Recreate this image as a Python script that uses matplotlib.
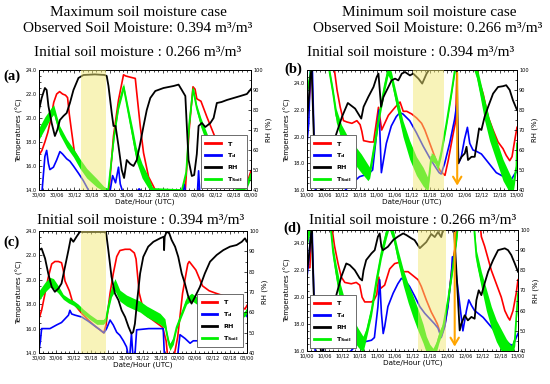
import numpy as np
import matplotlib
matplotlib.use("Agg")
import matplotlib.pyplot as plt
from matplotlib.ticker import MultipleLocator
from matplotlib.lines import Line2D

# ---------------- data ----------------
# hours since start of each 72 h window
a_xt = ['30/00', '30/06', '30/12', '30/18', '31/00', '31/06', '31/12', '31/18',
        '02/00', '02/06', '02/12', '02/18', '03/00']
b_xt = ['10/00', '10/06', '10/12', '10/18', '11/00', '11/06', '11/12', '11/18',
        '12/00', '12/06', '12/12', '12/18', '13/00']

# ---- panel (a)
a_T_h = [0, 1, 2, 3, 4, 5, 6, 7, 8, 9, 9.7, 10.3, 11, 12, 13, 14, 16, 18, 20, 22,
         23.8, 25.3, 27, 28.7, 29.5, 31, 32.7, 33.2, 34.4, 35.5, 37.2, 39.5, 41, 48,
         49.7, 51, 52.3, 53, 53.6, 55, 57, 59.3, 62, 66, 69, 70.6, 72]
a_T = [16.9, 17.3, 18.0, 18.8, 19.9, 21.3, 22.0, 22.2, 22.0, 21.9, 21.7, 20.3, 19.0,
       17.2, 16.8, 16.2, 15.4, 14.9, 14.5, 14.1, 14.0, 18.5, 21.5, 23.6, 23.5, 23.4,
       23.3, 22.1, 19.3, 17.1, 15.1, 14.0, 13.6, 13.6, 14.0, 19.0, 22.6, 22.4, 21.6,
       21.4, 20.1, 18.7, 17.0, 14.5, 13.8, 14.5, 15.6]
a_Td_h = [0, 1, 2, 2.6, 3.2, 3.7, 4.9, 6, 7.1, 8, 9.4, 10.5, 11.7, 13.4, 15, 17, 22,
          24.2, 25, 26, 27, 27.6, 28.5, 33, 34, 35, 48.8, 49.3, 49.8, 53.8, 54.2, 54.6,
          60, 72]
a_Td = [13.0, 13.8, 16.8, 17.3, 16.2, 15.7, 15.9, 16.5, 17.2, 17.0, 16.6, 16.4, 16.0,
        15.4, 14.8, 13.9, 13.5, 14.0, 15.2, 14.6, 15.9, 14.5, 13.8, 13.8, 14.1, 13.8,
        13.8, 14.5, 13.8, 13.8, 15.6, 13.8, 13.5, 13.5]
a_RH_h = [0, 0.9, 2, 2.6, 3.2, 4.3, 5.4, 6.2, 7.1, 8.3, 9.4, 10.5, 11.7, 13.4, 15.1,
          19, 22.3, 23, 23.6, 24.7, 25.3, 26, 27, 28.1, 28.9, 29.8, 31, 32.1, 33.2,
          34.4, 35.5, 36.6, 37.8, 39.5, 42.3, 45.7, 47.4, 48.5, 49.7, 50.2, 50.8, 51.9,
          52.7, 53.6, 54.2, 55.3, 56.5, 58.2, 59.3, 60.4, 62, 63.8, 66.1, 68.4, 70.6, 72]
a_RH = [80, 86, 91, 90, 82, 73.5, 67, 70, 75, 77, 78.5, 83.5, 90, 96, 97.5, 97.8, 97.5,
        97, 92, 78.5, 72, 72, 62, 50, 46, 55, 53, 52, 55, 63.5, 72, 80, 86, 89.5, 91,
        92, 92.7, 90, 87, 72, 55, 47, 47.5, 58, 72, 73.5, 71.5, 73.5, 76, 83.5, 84, 85,
        86, 87, 88, 90.5]
a_S_h = [0, 2, 4, 5, 6, 7, 9.4, 11.7, 13.9, 16.2, 19.6, 22, 23.5, 25.5, 27, 28.7, 30,
         31.8, 33, 35, 37, 38.6, 48.5, 50, 51, 52.3, 53.6, 55, 57, 59, 61, 63, 68, 70.5, 72]
a_S = [18.7, 19.6, 20.4, 20.7, 19.8, 19.0, 17.9, 17.1, 16.2, 15.4, 14.6, 14.1, 14.0,
       18.5, 21.0, 22.6, 20.9, 18.6, 17.0, 15.6, 14.7, 14.0, 14.0, 15.5, 19.5, 22.4,
       20.8, 19.6, 18.3, 17.0, 15.8, 14.8, 14.3, 14.4, 15.3]
a_Sw = [0.5, 0.5, 0.4, 0.4, 0.4, 0.35, 0.35, 0.35, 0.4, 0.4, 0.35, 0.2, 0.1, 0.2, 0.3,
        0.3, 0.4, 0.55, 0.6, 0.6, 0.5, 0.2, 0.1, 0.2, 0.3, 0.3, 0.3, 0.4, 0.45, 0.45,
        0.45, 0.4, 0.35, 0.3, 0.3]
a_shade = [14.4, 22.8]

# ---- panel (b)
b_T_h = [0, 0.6, 1.1, 1.7, 2.5, 9.1, 10.3, 11.4, 12.5, 13.7, 15.4, 17.1, 18.2, 18.8,
         19.4, 21.6, 22.8, 23.6, 24.5, 25.6, 27.9, 30.2, 31.9, 33, 34.2, 35.9, 37.6,
         39.3, 40.4, 42.1, 43.8, 45, 45.8, 47.3, 48.4, 50.1, 51, 51.6, 58, 58.7, 60.4,
         62.1, 63.8, 65.5, 67.2, 68.3, 69.5, 70.3, 71.2, 72]
b_T = [22.2, 22.2, 23.7, 25.5, 27, 25.5, 23.5, 22.2, 21.2, 21.1, 21.0, 21.2, 20.9, 20.4,
       19.7, 19.6, 19.6, 20.8, 22.2, 20.5, 21.6, 22.2, 22.6, 21.9, 21.9, 21.7, 21.4,
       21.0, 20.5, 19.5, 18.5, 17.7, 17.4, 17.1, 18.2, 20.2, 21.2, 27, 27, 24.4, 23.2,
       21.5, 20.5, 19.6, 19.1, 18.6, 18.2, 18.5, 19.7, 20.7]
b_Td_h = [0, 0.6, 1.2, 1.8, 2.4, 2.9, 4.8, 5.2, 5.6, 10, 15, 18, 21, 22.5, 23.5, 24.7,
          25.5, 27.2, 28.9, 30.6, 31.8, 32.9, 35.2, 37.5, 39.8, 42.1, 43.8, 45.3, 46,
          47.2, 48.9, 50.6, 51.4, 52, 52.9, 54, 55, 55.8, 56.9, 58.1, 59.8, 60.9, 64.9,
          68.3, 70.1, 71.2, 72]
b_Td = [19.5, 21.0, 25.5, 25.5, 20, 15.8, 15.8, 16.1, 15.8, 15.3, 16.4, 17.0, 17.2,
        17.5, 19.5, 22.0, 17.3, 19.5, 20.8, 21.5, 21.8, 21.7, 21.2, 20.3, 19.3, 18.4,
        17.8, 17.3, 17.2, 18.0, 19.5, 21.3, 22.5, 18.0, 18.5, 19.8, 20.7, 19.5, 19.0,
        18.9, 18.7, 18.4, 17.3, 16.9, 16.8, 17.2, 17.4]
b_RH_h = [0, 0.6, 1.1, 1.6, 2.5, 5, 8.7, 9.7, 12, 14, 16.5, 18.6, 19.4, 21, 22.8, 23.9,
          24.5, 25.4, 26.2, 27.9, 29, 30.2, 31.3, 32.5, 33.6, 35.3, 36.4, 38.2, 39.5, 41,
          41.8, 51.4, 51.8, 53, 54.1, 54.7, 55.2, 56.4, 57.5, 58.4, 59, 59.8, 60.9, 62.1,
          63.8, 65.5, 67.2, 68.3, 69.5, 70.6, 72]
b_RH = [75, 85, 96.5, 100, 60, 38, 62, 66.5, 76.6, 83.5, 80.7, 75.7, 81.6, 86.5, 91.5,
        96.5, 98.2, 81.6, 86.5, 91.5, 94.8, 95.7, 94.8, 98.2, 99, 97.3, 98.2, 95.7, 93.2,
        98.2, 100, 100, 53.3, 56.6, 58.3, 61.6, 55, 56.6, 56.6, 65, 70.8, 70, 76.6, 81.6,
        88.2, 91.5, 91.9, 92.4, 90, 84.9, 80]
b_S_h = [0, 1, 1.7, 6.8, 8.9, 10, 11.8, 13.5, 15.8, 18.6, 20.9, 21.5, 23.2, 24.9, 26.6,
         27.8, 28.9, 30.6, 32.9, 35.2, 37.5, 39.8, 41.5, 42.6, 43.8, 44.9, 46, 47.8, 49.5,
         50.6, 51.5, 56.3, 58.1, 59.2, 60.9, 62.6, 64.9, 67.2, 69.5, 70.6, 71.8, 72]
b_S = [23.5, 24.5, 26, 26, 23.3, 21.6, 20.3, 19.5, 18.8, 18.0, 17.3, 17.3, 19.5, 21.8,
       23.8, 25.0, 24.5, 22.8, 20.6, 19.0, 17.8, 17.0, 16.4, 18.5, 18.3, 17.8, 18.8, 21.0,
       23.3, 24.9, 26, 26, 24.9, 23.8, 22.0, 20.5, 19.0, 17.5, 16.5, 16.2, 17.8, 19.5]
b_Sw = [0.3, 0.3, 0.3, 0.3, 0.4, 0.5, 0.6, 0.7, 0.7, 0.7, 0.6, 0.4, 0.4, 0.4, 0.4, 0.4,
        0.4, 0.5, 0.6, 0.7, 0.7, 0.7, 0.5, 0.3, 0.3, 0.3, 0.3, 0.3, 0.3, 0.3, 0.3, 0.4,
        0.5, 0.6, 0.8, 0.8, 0.8, 0.8, 0.7, 0.5, 0.3, 0.3]
b_shade = [36.2, 46.9]
b_event = 51.5

# ---- panel (c)
c_T_h = [0, 0.9, 2.1, 3.2, 4.4, 5.5, 6.7, 7.8, 8.4, 9, 10.5, 11.6, 13.9, 15, 17.1, 19.4,
         21.1, 22.4, 23.2, 24.6, 25.7, 26.9, 28, 29.8, 31.5, 33, 33.6, 34.7, 36.5, 38.8,
         42.8, 44, 44.5, 46.8, 48, 49.7, 51.5, 52, 54.3, 56.6, 58.9, 61.2, 65, 69, 71.3, 72]
c_T = [16.8, 17.5, 18.9, 20.2, 21.3, 21.5, 21.5, 21.4, 20.8, 19.9, 19.1, 18.2, 17.5,
       17.2, 16.7, 16.2, 15.9, 15.65, 16.3, 18.9, 20.5, 21.9, 22.4, 22.5, 22.5, 22.2,
       21.7, 18.9, 17.2, 16.8, 16.1, 15.0, 13.8, 13.8, 15.3, 18.9, 21.3, 21.5, 20.8, 19.5,
       19.1, 18.9, 18.6, 18.0, 17.6, 17.9]
c_Td_h = [0, 0.5, 0.9, 3.8, 6.1, 7.8, 9, 10.2, 10.7, 11.3, 12.5, 14.8, 17.1, 19.4, 21.1,
          22.5, 23.4, 24.6, 25.7, 26.9, 28, 29.2, 30.3, 30.9, 31.5, 32, 32.5, 33.2, 33.8,
          38, 43, 43.4, 48, 48.8, 50.5, 52.3, 53.4, 60, 65, 70, 71.3, 72]
c_Td = [14.2, 15.0, 16.0, 16.0, 16.3, 16.5, 16.8, 17.1, 17.5, 17.2, 17.1, 16.95, 16.6,
        16.2, 15.9, 15.65, 16.0, 16.7, 16.3, 15.7, 15.45, 15.0, 14.5, 13.8, 14.0, 15.6,
        13.8, 13.8, 15.9, 16.0, 16.0, 13.8, 13.8, 15.5, 15.2, 14.8, 15.0, 15.0, 16.0,
        16.8, 17.3, 17.0]
c_RH_h = [0, 0.9, 2.1, 3.2, 4.4, 5.5, 6.7, 7.8, 9, 10.2, 11, 11.9, 13, 14.2, 15, 23.2,
          24, 25.1, 26.3, 27.5, 28.6, 29.8, 31, 32, 32.6, 33.2, 34, 35, 36.1, 37.8, 39.6,
          41.9, 43.2, 43.3, 43.5, 44.2, 45.1, 45.9, 47.1, 48.2, 49.4, 50.5, 51.7, 52.8,
          54, 55.7, 57.4, 59.2, 61.5, 63.8, 66.1, 68.4, 70.2, 71.3, 72]
c_RH = [90.6, 91.4, 86.5, 79.1, 72.5, 70.1, 71.7, 74.2, 82.4, 90.6, 96.4, 94.7, 97.2,
        99.7, 99.5, 99.5, 90.6, 77.5, 69.2, 66, 61, 57.7, 52.8, 49.5, 50.3, 54.4, 66,
        79.1, 87.3, 92.3, 94.7, 96.4, 97.2, 90.6, 97.2, 99.7, 98.8, 95.6, 92.3, 87.3,
        79.1, 74.2, 67.6, 64.3, 67.6, 72.5, 79.1, 84.9, 88.2, 90.6, 92.3, 93.1, 94.7,
        96.4, 94.7]
c_S_h = [0, 2.1, 3.8, 5, 6.7, 8.4, 10.2, 11.9, 13.6, 15.3, 17.6, 20, 22.3, 23.2, 24,
         25.1, 26.3, 28, 30.3, 32.6, 35, 37.3, 39.6, 41.9, 43.6, 44.2, 44.8, 45.3, 46.5,
         47.6, 49.4, 51.1, 52.8, 54.6, 60, 66, 71.3, 72]
c_S = [18.7, 19.4, 19.8, 19.7, 19.2, 18.6, 18.3, 18.1, 17.8, 17.4, 16.95, 16.55, 16.55,
       16.8, 17.8, 19.0, 19.6, 18.7, 18.3, 18.05, 17.8, 17.4, 17.1, 16.8, 16.4, 15.6,
       14.9, 14.5, 15.0, 16.1, 17.2, 18.3, 18.6, 18.3, 17.5, 16.8, 17.2, 17.5]
c_Sw = [0.4, 0.4, 0.4, 0.4, 0.3, 0.2, 0.2, 0.2, 0.2, 0.2, 0.2, 0.2, 0.2, 0.2, 0.3, 0.4,
        0.5, 0.45, 0.45, 0.45, 0.45, 0.45, 0.45, 0.45, 0.4, 0.3, 0.3, 0.3, 0.3, 0.2, 0.2,
        0.3, 0.3, 0.3, 0.3, 0.3, 0.2, 0.2]
c_shade = [14.6, 23.2]

# ---- panel (d)
d_T_h = [0, 1, 1.5, 2.5, 8.3, 9.4, 10.6, 11.7, 12.9, 15.1, 16.8, 18, 18.8, 19.7, 22,
         22.9, 23.8, 24.5, 25.1, 26.5, 28.2, 29.9, 31.6, 32.8, 34.5, 36.2, 37.9, 39, 40.7,
         42.4, 43.6, 44.5, 45.8, 47, 48.1, 49.3, 50, 50.8, 51.3, 58.4, 59.5, 60.6, 62.9,
         64.6, 66.3, 67.5, 68.6, 69.2, 70.3, 71.4, 72]
d_T = [22.2, 22.2, 25.5, 27, 25.5, 23.8, 22.5, 21.5, 21.1, 21.0, 21.1, 20.9, 20.0,
       19.65, 19.65, 19.8, 20.2, 21.5, 20.65, 20.9, 22.1, 22.5, 22.6, 21.9, 21.9, 21.6,
       21.3, 20.8, 19.8, 18.9, 18.4, 18.0, 17.1, 17.9, 19.4, 21.9, 23, 24, 27, 27, 24.5,
       23.8, 22.0, 21.0, 20.0, 19.0, 18.5, 18.3, 19.0, 20.3, 21.3]
d_Td_h = [0, 0.5, 1.2, 1.7, 2.4, 2.8, 5.2, 5.5, 5.8, 10, 15, 17.4, 20, 22, 23, 24.2,
          24.8, 25.4, 26, 26.5, 27.6, 29.4, 31, 32.2, 33.3, 35, 36.7, 38.5, 40.2, 41.9,
          43.6, 44.7, 45.8, 47, 48.1, 49.3, 49.6, 50.2, 53.2, 54.4, 55.2, 56.1, 57.2, 58.4,
          60.1, 64, 67.5, 69.2, 70.3, 71.4, 72]
d_Td = [21.5, 22.5, 24.5, 25.5, 19.8, 15.8, 15.8, 16.2, 15.8, 15.3, 16.0, 16.6, 16.7,
        16.8, 17.0, 19.3, 21.3, 18.8, 17.3, 17.8, 19.3, 20.3, 21.0, 21.4, 21.3, 20.8,
        20.1, 19.3, 18.8, 18.4, 18.0, 17.7, 17.0, 17.8, 19.3, 21.8, 23.0, 23.0, 17.5,
        19.0, 19.8, 19.4, 19.0, 18.8, 18.5, 17.5, 16.8, 16.5, 16.4, 17.0, 17.3]
d_RH_h = [0, 0.5, 1.2, 1.6, 2.5, 5, 8.5, 10, 11.7, 13.4, 14.6, 16.3, 18, 18.8, 19.3,
          20.2, 22, 23.1, 24.2, 24.8, 25.4, 25.9, 27.6, 29.4, 31, 32.8, 33.9, 35.6, 36.7,
          38.5, 39.6, 40.7, 42.4, 43.6, 44.7, 45.8, 46.4, 50.2, 52.1, 52.7, 53.8, 54.9,
          56.1, 57.2, 57.8, 58.6, 59.5, 60.6, 61.8, 63.5, 65.2, 67.5, 68.6, 69.7, 70.9, 72]
d_RH = [80, 85, 95, 100, 60, 38, 55, 67.7, 76.8, 83.4, 82.6, 80.1, 76, 75, 80, 85.1,
        88.4, 90, 96.7, 98.3, 91.7, 90, 91.7, 95, 96.7, 98.3, 97.5, 95.9, 95, 91, 92.5,
        94, 98, 96.5, 99, 96.5, 100, 100, 50.2, 53.6, 57.7, 55.2, 56.9, 56, 65.2, 70.1,
        67.7, 73.5, 79.3, 85.1, 90, 90.9, 90, 87.6, 83.4, 79.3]
d_S_h = [0, 1, 2, 7.7, 8.9, 10, 11.1, 12.9, 15.1, 17.4, 19.1, 20.2, 22, 23.7, 25.4, 27.1,
         28, 29.6, 31.1, 32.8, 34.5, 36.2, 37.9, 39.6, 40.7, 41.9, 43, 44.1, 45, 46.4,
         48.1, 49.8, 51, 51.8, 56.7, 57.8, 59.5, 61.2, 62.9, 64.6, 66.3, 68, 69.7, 70.9,
         71.4, 72]
d_S = [24.2, 25.2, 26, 26, 23.3, 21.8, 20.5, 19.0, 17.8, 17.0, 16.5, 17.3, 19.0, 21.3,
       23.3, 24.8, 25.5, 24.5, 23.0, 21.5, 20.3, 19.3, 18.3, 17.3, 16.5, 16.0, 15.8, 16.3,
       17.0, 17.8, 19.8, 22.3, 24.3, 26, 26, 23.0, 21.3, 19.8, 18.5, 17.5, 16.8, 16.2,
       15.9, 16.8, 18.5, 20.3]
d_Sw = [0.4, 0.4, 0.4, 0.4, 0.5, 0.6, 0.7, 0.8, 0.8, 0.7, 0.6, 0.4, 0.4, 0.4, 0.4, 0.4,
        0.4, 0.4, 0.5, 0.6, 0.7, 0.8, 0.8, 0.7, 0.6, 0.5, 0.4, 0.4, 0.4, 0.3, 0.3, 0.3,
        0.3, 0.3, 0.4, 0.5, 0.6, 0.8, 0.8, 0.8, 0.8, 0.7, 0.5, 0.4, 0.3, 0.3]
d_shade = [37.9, 47.5]
d_event = 50.4

# ---------------- drawing ----------------
RED, BLUE, GREEN, ORANGE = '#ff0000', '#0000ff', '#00f000', '#ffa500'
SERIF = ['Liberation Serif', 'DejaVu Serif']

fig = plt.figure(figsize=(5.5, 3.84), dpi=100)
W, H = 550.0, 384.0


def rect(x0, x1, y0, y1):
    return [x0 / W, 1 - y1 / H, (x1 - x0) / W, (y1 - y0) / H]


def panel(r, xt, ylim, ys, T_h, T, Td_h, Td, RH_h, RH, S_h, S, Sw, shade, event,
          leg_anchor, label, label_xy):
    ax = fig.add_axes(r)
    S = np.array(S)
    Sw = np.array(Sw)
    ax.plot(T_h, T, color=RED, lw=1.2, zorder=2)
    ax.plot(Td_h, Td, color=BLUE, lw=1.2, zorder=2)
    ax.fill_between(S_h, S - Sw, S + Sw, color=GREEN, lw=0, zorder=3)
    ax.plot(S_h, S, color=GREEN, lw=1.2, zorder=3)
    ax.set_xlim(0, 72)
    ax.set_ylim(*ylim)
    ax.set_xticks(np.arange(0, 73, 6))
    ax.set_xticklabels(xt)
    ax.xaxis.set_minor_locator(MultipleLocator(1.5))
    ax.set_yticks(ys)
    ax.set_yticklabels(['%.1f' % v for v in ys])
    ax.yaxis.set_minor_locator(MultipleLocator(0.5))
    ax.tick_params(which='both', direction='in', top=True, labelsize=3.6, pad=1.5,
                   width=0.5)
    ax.tick_params(which='major', length=2.5)
    ax.tick_params(which='minor', length=1.3)
    ax.set_xlabel('Date/Hour (UTC)', fontsize=5.2, labelpad=1)
    ax.set_ylabel('Temperatures (\u00b0C)', fontsize=5, labelpad=2)

    ax2 = ax.twinx()
    ax2.plot(RH_h, RH, color='black', lw=1.3, zorder=2)
    ax2.set_ylim(40, 100)
    ax2.set_yticks(np.arange(40, 101, 10))
    ax2.yaxis.set_minor_locator(MultipleLocator(5))
    ax2.tick_params(which='both', direction='in', labelsize=3.6, pad=1.5, width=0.5)
    ax2.tick_params(which='major', length=2.5)
    ax2.tick_params(which='minor', length=1.3)
    ax2.set_ylabel('RH (%)', fontsize=5, labelpad=2)
    ax2.axvspan(shade[0], shade[1], color='#f2e874', alpha=0.5, lw=0, zorder=4)
    if event is not None:
        ax2.annotate('', xy=(event, 40.8), xytext=(event, 100),
                     arrowprops=dict(arrowstyle='->,head_length=0.5,head_width=0.3',
                                     color=ORANGE, lw=1.5), zorder=5)
    for a in (ax, ax2):
        for s in a.spines.values():
            s.set_linewidth(0.7)
    handles = [Line2D([], [], color=RED, lw=2.0), Line2D([], [], color=BLUE, lw=2.0),
               Line2D([], [], color='black', lw=2.0), Line2D([], [], color=GREEN, lw=2.0)]
    labels = [r'$\mathbf{T}$', r'$\mathbf{T_d}$', r'$\mathbf{RH}$', r'$\mathbf{T_{Soil}}$']
    leg = ax2.legend(handles, labels, loc='upper left', bbox_to_anchor=leg_anchor,
                     fontsize=4.6, frameon=True, fancybox=False, framealpha=1,
                     edgecolor='#555555', handlelength=2.4, handletextpad=1.0,
                     labelspacing=0.55, borderpad=0.7, borderaxespad=0)
    leg.get_frame().set_linewidth(0.6)
    leg.set_zorder(10)
    fig.text(label_xy[0] / W, 1 - label_xy[1] / H, label, family=SERIF,
             fontweight='bold', fontsize=10.5, va='center', ha='left')
    return ax


panel(rect(39, 251, 70, 190), a_xt, (14, 24), np.arange(14, 24.1, 2),
      a_T_h, a_T, a_Td_h, a_Td, a_RH_h, a_RH, a_S_h, a_S, a_Sw, a_shade, None,
      (0.764, 0.458), '(a)', (3, 76))
panel(rect(307, 517, 70, 190), b_xt, (16, 25), np.arange(16, 24.1, 2),
      b_T_h, b_T, b_Td_h, b_Td, b_RH_h, b_RH, b_S_h, b_S, b_Sw, b_shade, b_event,
      (0.014, 0.458), '(b)', (284, 69))
panel(rect(39, 247, 231, 353), a_xt, (14, 24), np.arange(14, 24.1, 2),
      c_T_h, c_T, c_Td_h, c_Td, c_RH_h, c_RH, c_S_h, c_S, c_Sw, c_shade, None,
      (0.76, 0.484), '(c)', (3, 242))
panel(rect(307, 518, 230, 351), b_xt, (16, 25), np.arange(16, 24.1, 2),
      d_T_h, d_T, d_Td_h, d_Td, d_RH_h, d_RH, d_S_h, d_S, d_Sw, d_shade, d_event,
      (0.014, 0.463), '(d)', (283, 228))

TS = 11.0
fig.text(138 / W, 1 - 12 / H, 'Maximum soil moisture case', family=SERIF,
         fontsize=TS, ha='center', va='center')
fig.text(138 / W, 1 - 29 / H, 'Observed Soil Moisture: 0.394 m\u00b3/m\u00b3',
         family=SERIF, fontsize=TS, ha='center', va='center')
fig.text(429 / W, 1 - 12 / H, 'Minimum soil moisture case', family=SERIF,
         fontsize=TS, ha='center', va='center')
fig.text(428 / W, 1 - 29 / H, 'Observed Soil Moisture: 0.266 m\u00b3/m\u00b3',
         family=SERIF, fontsize=TS, ha='center', va='center')
fig.text(138 / W, 1 - 53 / H, 'Initial soil moisture : 0.266 m\u00b3/m\u00b3',
         family=SERIF, fontsize=TS, ha='center', va='center')
fig.text(411 / W, 1 - 53 / H, 'Initial soil moisture : 0.394 m\u00b3/m\u00b3',
         family=SERIF, fontsize=TS, ha='center', va='center')
fig.text(141 / W, 1 - 220 / H, 'Initial soil moisture : 0.394 m\u00b3/m\u00b3',
         family=SERIF, fontsize=TS, ha='center', va='center')
fig.text(413 / W, 1 - 220 / H, 'Initial soil moisture : 0.266 m\u00b3/m\u00b3',
         family=SERIF, fontsize=TS, ha='center', va='center')

fig.savefig('out.png', dpi=100)
